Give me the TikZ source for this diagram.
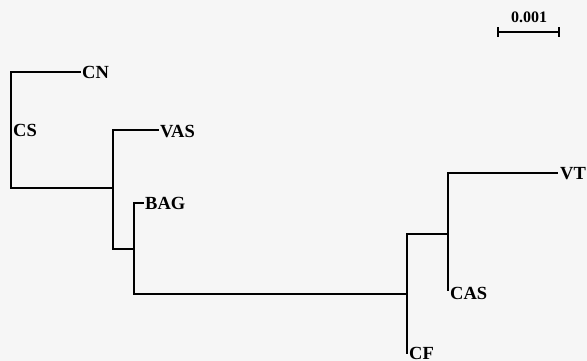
\documentclass[tikz,border=0pt]{standalone}
\usepackage{fontspec}
\setmainfont{Liberation Serif}
\begin{document}
\begin{tikzpicture}[x=1pt,y=-1pt,
  branch/.style={line width=1.9pt,line cap=rect},
  taxon/.style={font=\fontsize{18.5}{18.5}\selectfont\bfseries,inner sep=0pt,anchor=base west},
  scalelbl/.style={font=\fontsize{16}{16}\selectfont\bfseries,inner sep=0pt,anchor=base}]
\fill[white!93!gray] (0,0) rectangle (587,361);
\useasboundingbox (0,0) rectangle (587,361);
% internal nodes
\coordinate (n1) at (11,188);
\coordinate (n2) at (113,188);
\coordinate (n3) at (134,249);
\coordinate (n4) at (407,294);
\coordinate (n5) at (448,234);
% tip ends
\coordinate (tCN) at (80,72);
\coordinate (tVAS) at (158,130);
\coordinate (tBAG) at (143,203);
\coordinate (tVT) at (557,173);
\coordinate (tCAS) at (448,290);
\coordinate (tCF) at (407,353);
% labels
\node[taxon] (CN) at (82,78) {CN};
\node[taxon] (CS) at (13,136) {CS};
\node[taxon] (VAS) at (160,137) {VAS};
\node[taxon] (BAG) at (145,209) {BAG};
\node[taxon] (VT) at (560,179) {VT};
\node[taxon] (CAS) at (450,299) {CAS};
\node[taxon] (CF) at (409,359) {CF};
% branches
\draw[branch] (tCN) -| (n1) -- (n2);
\draw[branch] (tVAS) -| (n2) |- (n3);
\draw[branch] (tBAG) -| (n3) |- (n4);
\draw[branch] (tCF) -- (n4) |- (n5);
\draw[branch] (tVT) -| (n5) -- (tCAS);
% scale bar
\coordinate (s1) at (498,32);
\coordinate (s2) at (559,32);
\draw[line width=1.9pt] (s1) -- (s2);
\draw[line width=1.6pt] ([yshift=-5]s1) -- ([yshift=5]s1);
\draw[line width=1.6pt] ([yshift=-5]s2) -- ([yshift=5]s2);
\node[scalelbl] (scale) at (529,23) {0.001};
\end{tikzpicture}
\end{document}
